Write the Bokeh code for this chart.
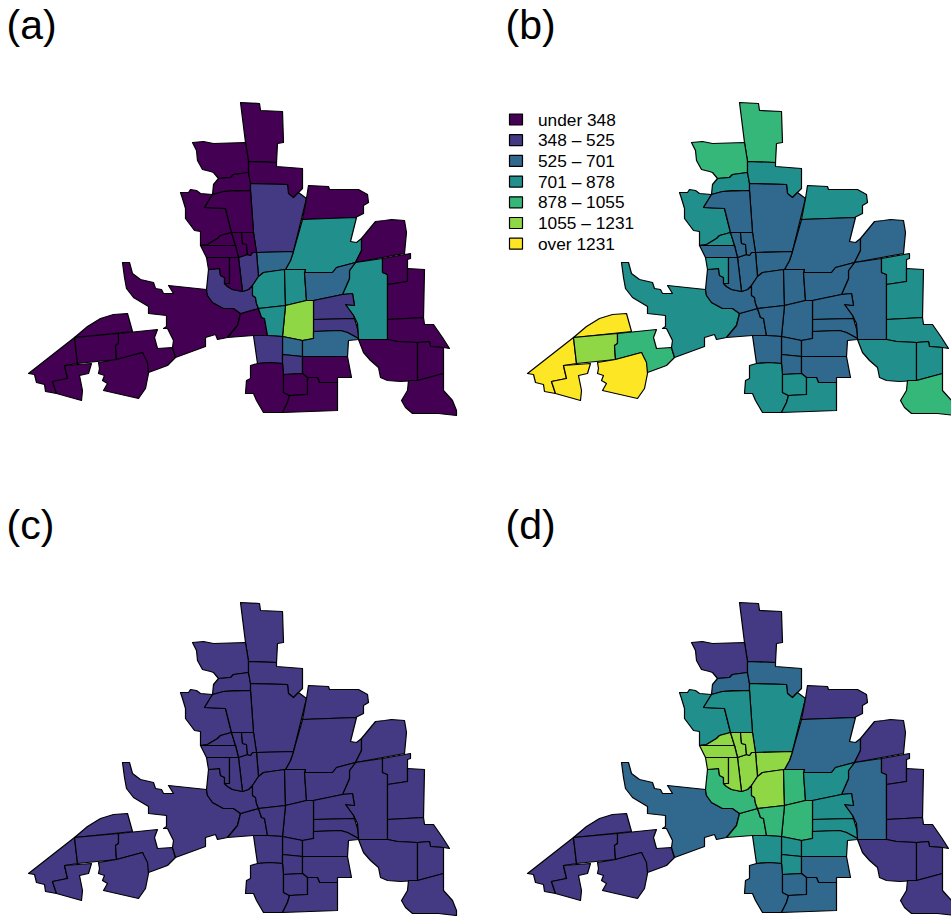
from bokeh.embed import file_html
from bokeh.layouts import column, row
from bokeh.models import ColumnDataSource, Range1d
from bokeh.plotting import figure
from bokeh.resources import INLINE
from bokeh.core.properties import value

palette = ["#440154", "#443A83", "#31688E", "#21908C", "#35B779", "#8FD744", "#FDE725"]
legend_labels = ["under 348", "348 – 525", "525 – 701", "701 – 878", "878 – 1055", "1055 – 1231", "over 1231"]
panel_labels = ["(a)", "(b)", "(c)", "(d)"]

t01 = [(74,337),(87,326),(100,318),(113,314),(127,313),(132,331)]
t02 = [(28,373),(74,337),(77,363),(64,365),(67,378),(52,381),(56,393),(45,391),(44,384),(36,382),(34,374)]
t03 = [(64,365),(91,363),(88,373),(79,375),(82,390),(81,400),(56,393),(52,381),(67,378)]
t04 = [(74,337),(118,333),(118,343),(115,345),(116,359),(77,363)]
t05 = [(118,333),(157,329),(154,337),(157,348),(172,347),(175,357),(167,365),(148,372),(142,352),(116,359),(115,345),(118,343)]
t06 = [(98,362),(116,359),(142,352),(147,362),(148,373),(145,388),(138,398),(103,390),(107,383),(102,380),(104,375),(98,373),(99,368)]
t07 = [(122,262),(129,262),(132,273),(140,279),(153,282),(155,288),(161,289),(163,293),(173,293),(168,285),(206,289),(207,295),(212,302),(223,308),(233,308),(240,313),(237,325),(227,337),(217,339),(215,334),(205,337),(205,346),(175,357),(172,347),(173,340),(167,328),(163,328),(166,326),(166,315),(148,313),(148,306),(133,297),(126,288),(124,277)]
t09 = [(240,313),(258,308),(261,317),(264,318),(267,335),(253,335),(227,337),(237,325)]
t10 = [(208,269),(219,268),(220,275),(224,277),(224,283),(227,286),(232,289),(242,291),(248,289),(252,285),(252,295),(255,297),(256,303),(258,308),(240,313),(233,308),(223,308),(212,302),(207,295),(206,289)]
t11 = [(240,102),(259,103),(260,110),(282,111),(283,142),(277,143),(276,162),(248,161),(245,142)]
t12 = [(192,142),(203,141),(213,143),(245,142),(248,161),(248,172),(233,174),(230,177),(218,178),(213,172),(210,171),(202,169),(197,160),(196,150)]
t13 = [(218,178),(230,177),(233,174),(248,172),(250,183),(250,190),(232,190),(223,191),(212,194),(213,184)]
t14 = [(248,161),(276,162),(276,166),(302,168),(302,188),(298,192),(293,197),(288,193),(287,184),(250,183),(248,172)]
t15 = [(250,183),(287,184),(288,193),(293,197),(298,192),(306,198),(293,251),(256,252),(253,232),(250,190)]
t16 = [(308,185),(328,186),(329,189),(358,189),(367,194),(368,202),(363,205),(363,213),(355,217),(328,218),(302,219),(306,198)]
t17 = [(302,219),(328,218),(356,217),(350,241),(356,242),(361,238),(361,250),(355,262),(336,267),(332,272),(304,272),(305,269),(285,269),(290,260),(293,251)]
t18 = [(361,238),(375,221),(384,220),(391,219),(404,220),(406,232),(404,253),(355,262),(361,250)]
t19 = [(355,262),(382,258),(382,272),(387,274),(387,339),(358,339),(357,323),(353,315),(345,304),(354,305),(352,293),(342,294),(349,278),(349,270)]
t20 = [(382,258),(410,253),(410,258),(407,259),(407,281),(387,284),(387,274),(382,272)]
t21 = [(407,268),(424,269),(423,317),(387,319),(387,284),(407,281)]
t22 = [(387,319),(423,317),(424,324),(433,324),(442,337),(449,348),(443,347),(430,346),(429,341),(417,342),(397,341),(387,339)]
t23 = [(358,339),(387,339),(397,341),(417,342),(417,380),(400,381),(387,380),(380,377),(378,367),(370,360),(363,352)]
t24 = [(417,342),(429,341),(430,346),(443,347),(443,373),(417,380)]
t25 = [(408,380),(417,380),(443,373),(443,390),(452,400),(456,410),(456,415),(438,413),(412,413),(405,407),(401,400),(407,390)]
t26 = [(256,252),(293,251),(290,260),(285,269),(263,272),(258,276)]
t27 = [(238,257),(247,254),(250,255),(252,252),(256,252),(258,276),(252,285),(248,289),(242,291)]
t28 = [(180,192),(188,192),(190,189),(196,190),(200,193),(212,194),(204,207),(225,208),(231,232),(220,235),(217,238),(212,241),(207,244),(200,245),(200,231),(194,230),(185,218),(185,208),(182,198)]
t29 = [(212,194),(223,191),(250,190),(253,232),(231,232),(225,208),(204,207)]
t30 = [(207,244),(212,241),(217,238),(220,235),(231,232),(235,245),(200,245)]
t31 = [(231,232),(241,232),(242,243),(246,244),(247,254),(238,257),(235,245)]
t32 = [(241,232),(253,232),(256,252),(252,252),(250,255),(247,254),(246,244),(242,243)]
t33 = [(200,245),(235,245),(238,257),(206,257)]
t34 = [(206,257),(229,257),(229,283),(224,283),(224,277),(220,275),(219,268),(208,269)]
t35 = [(229,257),(238,257),(242,291),(232,289),(227,286),(224,283),(229,283)]
t36 = [(263,272),(284,269),(285,305),(258,308),(256,303),(255,297),(252,295),(252,285),(258,276)]
t37 = [(284,269),(305,269),(304,272),(306,300),(285,305)]
t38 = [(304,272),(332,272),(336,267),(355,262),(349,270),(349,278),(342,294),(313,300),(306,300)]
t39 = [(313,300),(342,294),(352,293),(354,305),(345,304),(353,315),(354,318),(313,319)]
t40 = [(313,319),(354,318),(357,328),(358,338),(347,332),(340,330),(313,331)]
t41 = [(285,305),(306,300),(313,300),(313,338),(302,340),(282,336)]
t42 = [(258,308),(285,305),(282,336),(267,335),(264,318),(261,317)]
t43 = [(282,336),(302,340),(302,356),(282,354)]
t44 = [(302,340),(313,338),(313,331),(340,330),(347,332),(358,338),(358,339),(348,340),(347,356),(302,356)]
t45 = [(253,335),(267,335),(282,336),(282,354),(282,363),(269,362),(257,363)]
t46 = [(282,354),(302,356),(302,373),(283,374),(282,363)]
t47 = [(302,356),(347,356),(351,377),(337,377),(337,382),(319,382),(317,377),(307,377),(302,373)]
t48 = [(250,365),(257,363),(269,362),(282,363),(283,374),(283,392),(289,395),(287,402),(282,412),(263,412),(256,400),(253,393),(245,393),(246,380),(250,378)]
t49 = [(283,374),(302,373),(307,377),(307,394),(289,395),(283,392)]
t50 = [(307,377),(317,377),(319,382),(337,382),(337,410),(282,412),(287,402),(289,395),(307,394)]

tracts = [t01,t02,t03,t04,t05,t06,t07,t09,t10,t11,t12,t13,t14,t15,t16,t17,t18,t19,t20,t21,t22,t23,t24,t25,
          t26,t27,t28,t29,t30,t31,t32,t33,t34,t35,t36,t37,t38,t39,t40,t41,t42,t43,t44,t45,t46,t47,t48,t49,t50]

#           01 02 03 04 05 06 07 09 10 11 12 13 14 15 16 17 18 19 20 21 22 23 24 25 26 27 28 29 30 31 32 33 34 35 36 37 38 39 40 41 42 43 44 45 46 47 48 49 50
classes_a = [0, 0, 0, 0, 0, 0, 0, 0, 1, 0, 0, 0, 0, 1, 0, 3, 0, 3, 0, 0, 0, 0, 0, 0, 2, 1, 0, 0, 0, 0, 0, 0, 0, 0, 3, 3, 2, 1, 1, 5, 3, 2, 2, 1, 1, 0, 0, 0, 0]
classes_b = [6, 6, 6, 5, 4, 6, 3, 2, 2, 4, 4, 3, 3, 2, 3, 2, 2, 2, 3, 3, 3, 3, 3, 4, 2, 2, 3, 2, 3, 2, 2, 2, 3, 2, 2, 2, 2, 2, 2, 2, 2, 2, 2, 2, 2, 2, 3, 3, 3]
classes_c = [1] * len(tracts)
classes_d = [1, 1, 1, 1, 1, 1, 2, 4, 4, 1, 1, 2, 2, 3, 1, 2, 1, 2, 1, 1, 1, 1, 1, 1, 5, 5, 3, 3, 5, 5, 5, 5, 5, 5, 5, 4, 3, 3, 3, 4, 4, 3, 3, 3, 3, 2, 2, 2, 2]

PX, PY = 499, 500
SPLIT_X, SPLIT_Y = 490, 495
FONT = value("Liberation Sans")


def panel(label, classes, col, rw):
    w = SPLIT_X if col == 0 else 951 - SPLIT_X
    h = SPLIT_Y if rw == 0 else 916 - SPLIT_Y
    x0 = 0 if col == 0 else SPLIT_X - PX
    y0 = 0 if rw == 0 else SPLIT_Y - PY
    p = figure(width=w, height=h, output_backend="svg", toolbar_location=None,
               x_range=Range1d(x0, x0 + w), y_range=Range1d(y0 + h, y0),
               x_axis_type=None, y_axis_type=None, min_border=0)
    p.grid.visible = False
    p.outline_line_color = None
    p.background_fill_color = "white"
    src = ColumnDataSource(dict(
        xs=[[c[0] for c in t] for t in tracts],
        ys=[[c[1] for c in t] for t in tracts],
        color=[palette[k] for k in classes],
    ))
    p.patches("xs", "ys", source=src, fill_color="color", line_color="black", line_width=1.2, line_join="round")
    p.text([6], [24.5], text=[label], text_font=FONT, text_font_size="41px", text_color="black",
           text_baseline="middle", text_align="left")
    return p


pa = panel(panel_labels[0], classes_a, 0, 0)
pb = panel(panel_labels[1], classes_b, 1, 0)
pc = panel(panel_labels[2], classes_c, 0, 1)
pd = panel(panel_labels[3], classes_d, 1, 1)

rows_y = [119 + i * 20.7 for i in range(len(legend_labels))]
pb.rect([16.5] * 7, rows_y, width=13, height=11, fill_color=palette, line_color="black", line_width=1.2)
pb.text([38.5] * 7, rows_y, text=legend_labels, text_font=FONT, text_font_size="17.3px", text_color="black",
        text_baseline="middle", text_align="left")

layout = column(row(pa, pb), row(pc, pd))
open("out.html", "w").write(file_html(layout, INLINE))
